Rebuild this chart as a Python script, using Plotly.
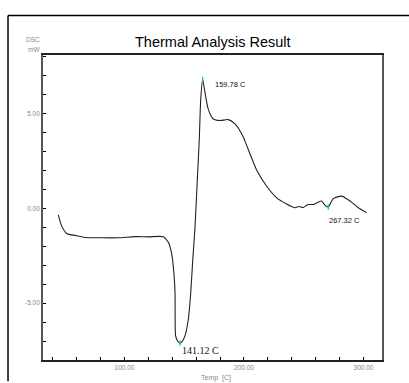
import plotly.graph_objects as go

temp = [44.6, 47.4, 51.6, 60.0, 67.0, 80.0, 95.0, 108.8, 120.0, 132.5, 136.7, 139.5, 141.4, 142.3,
        142.8, 144.5, 146.4, 148.5, 150.6, 153.4, 155.4, 157.1, 159.0, 160.8, 162.6, 163.8, 165.4,
        167.4, 170.1, 174.3, 179.9, 186.9, 192.5, 199.4, 202.2, 210.6, 219.0, 227.4, 235.7, 242.7,
        246.0, 249.6, 253.0, 258.0, 261.0, 265.0, 267.3, 270.5, 274.7, 281.8, 288.7, 295.7, 302.7]
dsc = [-0.34, -0.92, -1.32, -1.44, -1.53, -1.55, -1.55, -1.49, -1.50, -1.49, -1.79, -2.40, -3.44, -4.48,
       -6.73, -7.00, -7.11, -7.00, -6.73, -5.86, -4.48, -2.74, -1.00, 1.34, 3.68, 5.77, 6.81,
       6.11, 5.24, 4.72, 4.64, 4.69, 4.46, 3.77, 3.33, 2.03, 1.17, 0.56, 0.24, 0.04,
       0.10, 0.05, 0.20, 0.21, 0.30, 0.39, 0.20, 0.07, 0.52, 0.65, 0.39, 0.04, -0.22]

peak_t = [146.4, 165.4, 270.5]
peak_v = [-7.11, 6.81, 0.07]
peak_labels = ["141.12 C", "159.78 C", "267.32 C"]
label_t = [146.4, 174.1, 269.2]
label_v = [-7.52, 6.54, -0.66]

y_ticks = [-5, 0, 5]
y_ticktext = ["-5.00", "0.00", "5.00"]
x_ticks = [100, 200, 300]
x_ticktext = ["100.00", "200.00", "300.00"]

SANS = "Liberation Sans, Arial"

fig = go.Figure()
fig.add_trace(go.Scatter(x=temp, y=dsc, mode="lines", line=dict(color="#222222", width=1.1, shape="spline", smoothing=0.6),
                         hoverinfo="skip", showlegend=False))
fig.add_trace(go.Scatter(x=peak_t, y=peak_v, mode="markers",
                         marker=dict(symbol="line-ns", size=4, line=dict(color="#00c8d8", width=1.2)),
                         showlegend=False))

for t, v, txt in zip(label_t, label_v, peak_labels):
    serif = txt.startswith("141")
    fig.add_annotation(x=t, y=v, xref="x", yref="y", text=txt, showarrow=False, xanchor="left",
                       font=dict(family="Liberation Serif" if serif else SANS,
                                 size=10 if serif else 7.5, color="#111111"))

fig.add_annotation(x=0.5, y=1.0, xref="paper", yref="paper", yanchor="bottom", yshift=3,
                   text="Thermal Analysis Result", showarrow=False,
                   font=dict(family=SANS, size=14.5, color="#000000"))
fig.add_annotation(x=-0.003, y=1.05, xref="paper", yref="paper", xanchor="right", yanchor="middle",
                   text="DSC", showarrow=False, font=dict(family=SANS, size=6.5, color="#888888"))
fig.add_annotation(x=-0.003, y=1.018, xref="paper", yref="paper", xanchor="right", yanchor="middle",
                   text="mW", showarrow=False, font=dict(family=SANS, size=6.5, color="#888888"))
fig.add_annotation(x=0.51, y=-0.04, xref="paper", yref="paper", xanchor="center", yanchor="top",
                   text="Temp  [C]", showarrow=False, font=dict(family=SANS, size=7, color="#888888"))

# outer frame
fig.add_shape(type="line", xref="paper", yref="paper", x0=-0.1032, x1=1.09, y0=1.1294, y1=1.1294,
              line=dict(color="#000000", width=1.5))
fig.add_shape(type="line", xref="paper", yref="paper", x0=-0.1032, x1=-0.1032, y0=1.1294, y1=-0.07,
              line=dict(color="#000000", width=1.5))

fig.update_xaxes(range=[31.8, 315.5], tickvals=x_ticks, ticktext=x_ticktext, ticks="inside", ticklen=3,
                 tickcolor="#000000", showgrid=False, zeroline=False, showline=True, mirror=True,
                 linecolor="#222222", linewidth=1.5,
                 tickfont=dict(family=SANS, size=6.5, color="#888888"),
                 minor=dict(dtick=20, tick0=0, ticks="inside", ticklen=3, tickcolor="#000000"))
fig.update_yaxes(range=[-8.0, 8.1], tickvals=y_ticks, ticktext=y_ticktext, ticks="inside", ticklen=3,
                 tickcolor="#000000", showgrid=False, zeroline=False, showline=True, mirror=True,
                 linecolor="#555555", linewidth=1.8,
                 tickfont=dict(family=SANS, size=6.5, color="#888888"),
                 minor=dict(dtick=1, tick0=0, ticks="inside", ticklen=3, tickcolor="#000000"))

fig.update_layout(width=409, height=383, margin=dict(l=43, r=27, t=55, b=19),
                  paper_bgcolor="white", plot_bgcolor="white", showlegend=False)

fig.write_html("out.html")
